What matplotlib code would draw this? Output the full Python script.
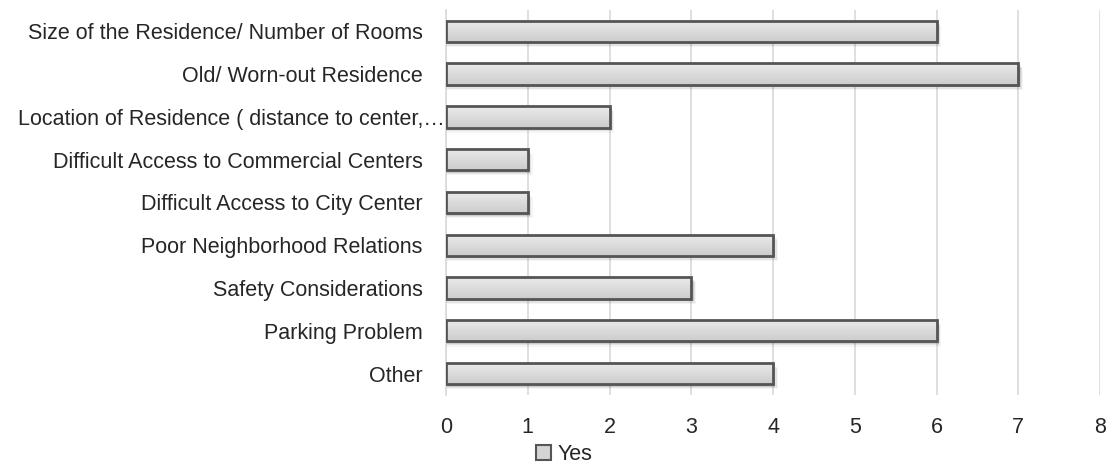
import numpy as np
import matplotlib
matplotlib.use('Agg')
import matplotlib.pyplot as plt
from matplotlib.patches import Rectangle
from matplotlib.transforms import ScaledTranslation

categories = [
    'Size of the Residence/ Number of Rooms',
    'Old/ Worn-out Residence',
    'Location of Residence ( distance to center,…',
    'Difficult Access to Commercial Centers',
    'Difficult Access to City Center',
    'Poor Neighborhood Relations',
    'Safety Considerations',
    'Parking Problem',
    'Other',
]
yes_counts = [6, 7, 2, 1, 1, 4, 3, 6, 4]
x_ticks = [0, 1, 2, 3, 4, 5, 6, 7, 8]

plt.rcParams['font.family'] = ['Liberation Sans', 'DejaVu Sans']

fig = plt.figure(figsize=(11.1, 4.68), dpi=100)
ax = fig.add_axes([0.4018, 0.156, 0.5892, 0.823])

ypos = np.arange(len(categories))
bar_h = 0.5
grad = np.linspace(0.92, 0.80, 64).reshape(-1, 1)

for y, v in zip(ypos, yes_counts):
    # soft drop shadow under each bar
    for k, a in enumerate([0.14, 0.10, 0.07, 0.04]):
        off = 0.03 + 0.03 * k
        ax.add_patch(Rectangle((0, y - bar_h / 2 + off), v + 0.015 * (k + 1), bar_h,
                               facecolor='black', edgecolor='none', alpha=a, zorder=2))
    rect = Rectangle((0, y - bar_h / 2), v, bar_h, facecolor='none',
                     edgecolor='#555555', linewidth=2.0, zorder=4)
    ax.add_patch(rect)
    im = ax.imshow(grad, cmap='gray', vmin=0, vmax=1, aspect='auto',
                   extent=(0, v, y + bar_h / 2, y - bar_h / 2), zorder=3,
                   interpolation='bilinear')
    im.set_clip_path(rect)

ax.set_xlim(0, 8)
ax.set_ylim(len(categories) - 0.5, -0.5)
ax.set_xticks(x_ticks)
ax.set_yticks(ypos)
ax.set_yticklabels(categories, fontsize=15.5, color='#262626')
ax.tick_params(axis='x', labelsize=15.5, colors='#262626', length=0, pad=16)
ax.tick_params(axis='y', length=0, pad=17)

# the truncated label sits closer to the axis than the others
long_label = ax.get_yticklabels()[2]
long_label.set_transform(long_label.get_transform()
                         + ScaledTranslation(16 / 72, 0, fig.dpi_scale_trans))

ax.grid(axis='x', color='#d9d9d9', linewidth=1.2, zorder=0)
ax.set_axisbelow(True)
for side in ['top', 'right', 'bottom']:
    ax.spines[side].set_visible(False)
ax.spines['left'].set_color('#d9d9d9')
ax.spines['left'].set_linewidth(1.2)

legend_handle = Rectangle((0, 0), 1, 1, facecolor='#d4d4d4', edgecolor='#555555', linewidth=1.5)
fig.legend([legend_handle], ['Yes'], loc='center', bbox_to_anchor=(0.508, 0.028),
           frameon=False, fontsize=15.5, handlelength=0.7, handleheight=0.7,
           handletextpad=0.3, labelcolor='#262626')

fig.savefig('out.png', dpi=100)
